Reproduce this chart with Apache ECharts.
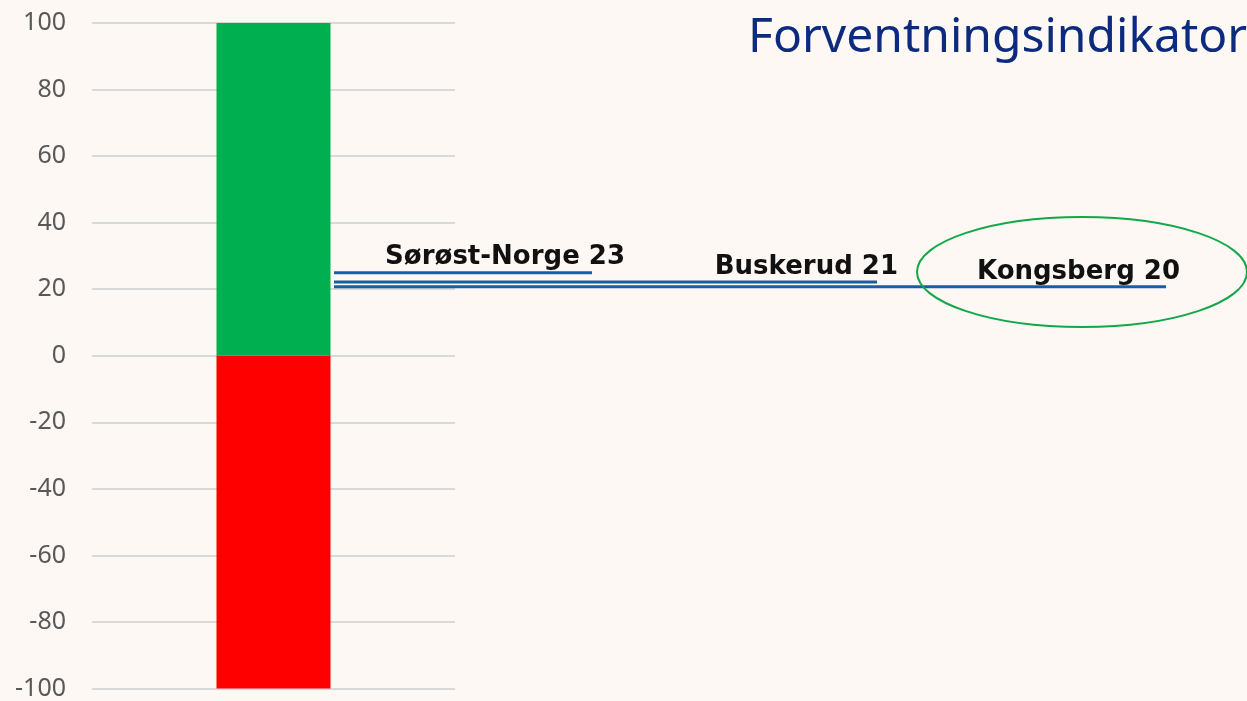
<!DOCTYPE html>
<html>
<head>
<meta charset="utf-8">
<script src="https://cdn.jsdelivr.net/npm/echarts@6/dist/echarts.min.js"></script>
<style>
  html, body { margin: 0; padding: 0; background: #fdf8f4; }
  #chart { width: 1247px; height: 701px; }
</style>
</head>
<body>
<div id="chart"></div>
<script>
// scale bar: red below zero, green above
const scaleCategories = ["Indikator"];
const scaleNegative = [-100];
const scalePositive = [100];

// regions and their indicator values
const regions = ["Sørøst-Norge", "Buskerud", "Kongsberg"];
const regionValues = [23, 21, 20];

// layout only: where each marker line starts/ends (pixels) and label nudge
const lineStart = 334;
const lineEnd = [592, 877, 1166];
const labelNudge = [[33, -16], [21, -15], [14, -15]];

const chart = echarts.init(document.getElementById("chart"));

const lineSeries = regions.map((name, i) => ({
  type: "line",
  name: name,
  xAxisIndex: 1,
  yAxisIndex: 1,
  symbol: "circle",
  symbolSize: 0,
  showSymbol: true,
  silent: true,
  lineStyle: { color: "#1a5ca6", width: 3 },
  data: [
    [lineStart, regionValues[i]],
    {
      value: [lineEnd[i], regionValues[i]],
      label: {
        show: true,
        formatter: name + " " + regionValues[i],
        position: labelNudge[i],
        align: "right",
        verticalAlign: "middle",
        fontFamily: "DejaVu Sans",
        fontWeight: "bold",
        fontSize: 26,
        color: "#111",
      },
    },
  ],
}));

chart.setOption({
  backgroundColor: "#fdf8f4",
  animation: false,
  title: {
    text: "Forventningsindikator",
    left: 743,
    top: 9,
    textStyle: { fontFamily: "Noto Sans", fontWeight: "normal", fontSize: 48, color: "#0c2a7e" },
  },
  grid: [
    { left: 92, width: 363, top: 23, bottom: 9 },
    { left: 0, right: 0, top: 7, bottom: 321 },
  ],
  xAxis: [
    {
      type: "category",
      gridIndex: 0,
      data: scaleCategories,
      axisLine: { show: false },
      axisTick: { show: false },
      axisLabel: { show: false },
    },
    { type: "value", gridIndex: 1, min: 0, max: 1247, show: false },
  ],
  yAxis: [
    {
      type: "value",
      gridIndex: 0,
      min: -100,
      max: 100,
      interval: 20,
      axisLine: { show: false },
      axisTick: { show: false },
      axisLabel: { fontFamily: "Noto Sans", fontSize: 25, color: "#595959", margin: 26 },
      splitLine: { lineStyle: { color: "#d9d9d9", width: 2 } },
    },
    { type: "value", gridIndex: 1, min: 0, max: 80, show: false },
  ],
  graphic: [
    {
      type: "ellipse",
      shape: { cx: 1082, cy: 272, rx: 165, ry: 55 },
      style: { fill: null, stroke: "#12a84a", lineWidth: 2 },
      z: 10,
    },
  ],
  series: [
    {
      type: "bar",
      stack: "scale",
      barWidth: 114,
      itemStyle: { color: "#ff0000" },
      data: scaleNegative,
    },
    {
      type: "bar",
      stack: "scale",
      barWidth: 114,
      itemStyle: { color: "#00b050" },
      data: scalePositive,
    },
    ...lineSeries,
  ],
});
</script>
</body>
</html>
